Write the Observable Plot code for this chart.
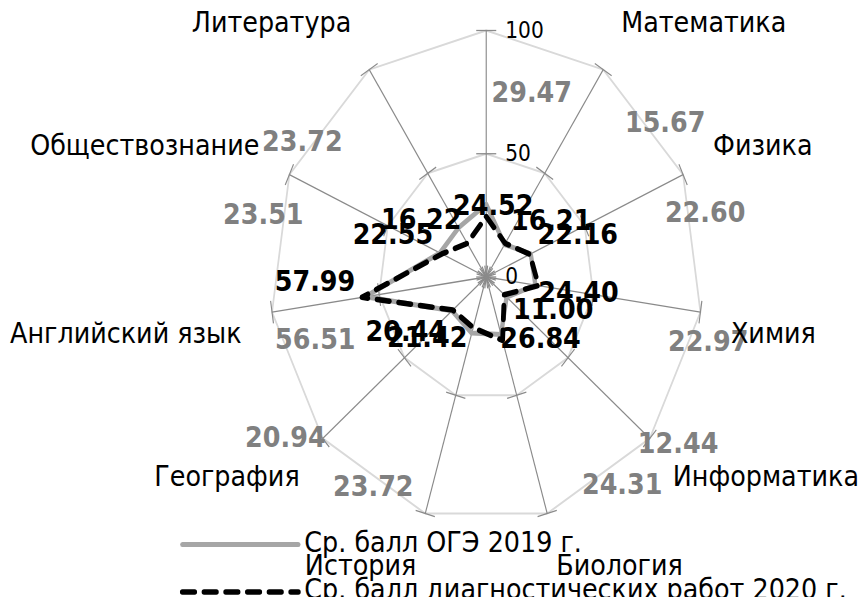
<!DOCTYPE html>
<html><head><meta charset="utf-8">
<script src="https://cdn.jsdelivr.net/npm/d3@7"></script>
<script src="https://cdn.jsdelivr.net/npm/@observablehq/plot@0.6"></script>
<style>
html,body{margin:0;padding:0;background:#fff;overflow:hidden;}
#wrap{width:863px;height:597px;overflow:hidden;position:relative;background:#fff;}
#chart{position:absolute;left:0;top:0;}
</style></head>
<body><div id="wrap"><div id="chart"></div></div>
<script>
// ---- data ----
const categories = ["Русский язык","Математика","Физика","Химия","Информатика","Биология","История","География","Английский язык","Обществознание","Литература"];
const oge2019  = [29.47,15.67,22.60,22.97,12.44,24.31,23.72,20.94,56.51,23.51,23.72];
const diag2020 = [24.52,16.21,22.16,24.40,11.00,26.84,21.42,20.44,57.99,22.55,16.22];
const radialTicks = [0,50,100];
const seriesNames = ["Ср. балл ОГЭ 2019 г.","Ср. балл диагностических работ 2020 г."];

// ---- layout (reference pixels) ----
const SX = 216.5/246.5;          // horizontal squeeze of the reference picture
const PX = 2.465;                // px per unit along the radius
const CX = 486/SX, CY = 276.5;   // centre (unsqueezed px)
const W = Math.round(863/SX), H = 597;
const n = categories.length;
const ang = i => i*2*Math.PI/n;
const pol = (v,i) => [v*Math.sin(ang(i)), v*Math.cos(ang(i))];
const toData = (p,o) => [p[0] + o[0]/SX/PX, p[1] - o[1]/PX];
const ux = px => (px/SX - CX)/PX, uy = py => (CY - py)/PX;

// label offsets (reference px, relative to the data point)
const blackOff = [[7,-11],[46,-23],[48,-20],[40,7],[49,15],[38,-2],[-46,10],[-47,22],[-47,-16],[-49,-19],[-46,-24]];
const greyOff  = [[45.5,-111.4],[160.7,-122],[174.5,-41.4],[172.8,56.4],[171.6,146.4],[121.2,150],[-98.5,153.4],[-166.7,126.7],[-49.9,42.7],[-176.7,-38.4],[-156.2,-86.3]];
const catGap = [0,18,30,30.5,23,9], catShift = [0,-47,-29,21.5,38.5,52];

const idx = d3.range(n);
const rings = [50,100].flatMap(r => idx.map(i => ({r, x: pol(r,i)[0], y: pol(r,i)[1]})));
const spokes = idx.map(i => ({x: pol(100,i)[0], y: pol(100,i)[1]}));
const TK = 11.4/PX;
const ticks = radialTicks.flatMap(v => idx.map(i => {
  const [x,y] = pol(v,i), a = ang(i);
  return {x1: x - TK*Math.cos(a), y1: y + TK*Math.sin(a), x2: x + TK*Math.cos(a), y2: y - TK*Math.sin(a)};
}));
const tickLabels = radialTicks.map(v => ({x: 19/SX/PX, y: v, t: String(v)}));
const pts = vals => idx.map(i => { const [x,y] = pol(vals[i], i); return {x, y}; });
const labs = (vals, off) => idx.map(i => { const [x,y] = toData(pol(vals[i], i), off[i]); return {x, y, t: vals[i].toFixed(2)}; });
const catLab = idx.filter(i => i > 0).map(i => {
  const m = Math.min(i, n - i), right = i <= n/2;
  const [x,y] = toData(pol(100,i), [right ? catGap[m] : -catGap[m], catShift[m]]);
  return {x, y, t: categories[i], right};
});

const GREY = "#a6a6a6";
const dash = "14,10.7";
const plot = Plot.plot({
  width: W, height: H, margin: 0,
  x: {domain: [-CX/PX, (W-CX)/PX], axis: null},
  y: {domain: [(CY-H)/PX, CY/PX], axis: null},
  style: {fontFamily: "'DejaVu Sans', sans-serif", background: "#fff"},
  marks: [
    Plot.line(rings, {x: "x", y: "y", z: "r", curve: "linear-closed", stroke: "#d9d9d9", strokeWidth: 2}),
    Plot.link(spokes, {x1: d => 0, y1: d => 0, x2: "x", y2: "y", stroke: "#8a8a8a", strokeWidth: 1.3}),
    Plot.link(ticks, {x1: "x1", y1: "y1", x2: "x2", y2: "y2", stroke: "#8a8a8a", strokeWidth: 1.3}),
    Plot.text(tickLabels, {x: "x", y: "y", text: "t", textAnchor: "start", fontSize: 23, fill: "#000"}),
    Plot.line(pts(oge2019), {x: "x", y: "y", curve: "linear-closed", stroke: GREY, strokeWidth: 5, strokeLinejoin: "round"}),
    Plot.line(pts(diag2020), {x: "x", y: "y", curve: "linear-closed", stroke: "#000", strokeWidth: 5.5, strokeDasharray: dash, strokeLinecap: "round", strokeLinejoin: "round"}),
    Plot.text(labs(oge2019, greyOff), {x: "x", y: "y", text: "t", fontSize: 29, fontWeight: "bold", fill: "#808080"}),
    Plot.text(labs(diag2020, blackOff), {x: "x", y: "y", text: "t", fontSize: 29, fontWeight: "bold", fill: "#000"}),
    Plot.text(catLab.filter(d => d.right), {x: "x", y: "y", text: "t", textAnchor: "start", fontSize: 29, fill: "#000"}),
    Plot.text(catLab.filter(d => !d.right), {x: "x", y: "y", text: "t", textAnchor: "end", fontSize: 29, fill: "#000"}),
    // legend
    Plot.line([[ux(182), uy(544)], [ux(298), uy(544)]], {stroke: GREY, strokeWidth: 5, strokeLinecap: "round"}),
    Plot.line([[ux(182), uy(591.5)], [ux(298), uy(591.5)]], {stroke: "#000", strokeWidth: 5.5, strokeDasharray: dash, strokeLinecap: "round"}),
    Plot.text([seriesNames[0]], {x: ux(304), y: uy(542), text: d => d, textAnchor: "start", fontSize: 29, fill: "#000"}),
    Plot.text([seriesNames[1]], {x: ux(304), y: uy(589), text: d => d, textAnchor: "start", fontSize: 29, fill: "#000"})
  ]
});
plot.style.maxWidth = "none";
plot.style.width = W + "px";
plot.style.height = H + "px";
plot.style.transformOrigin = "0 0";
plot.style.transform = `scaleX(${863/W})`;
const holder = document.getElementById("chart");
holder.style.width = W + "px";
holder.appendChild(plot);
</script>
</body></html>
